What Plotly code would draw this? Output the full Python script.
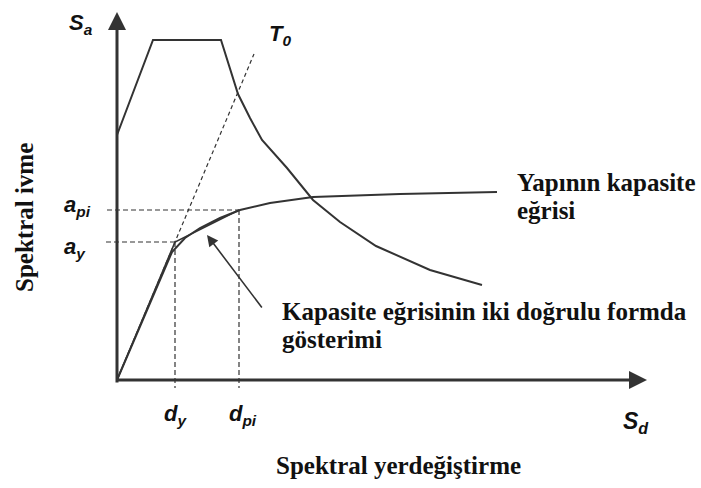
import plotly.graph_objects as go

# Spectral acceleration / displacement diagram (arbitrary units)
spec_sd = [0.0, 3.6, 10.4, 12.1, 13.3, 14.5, 17.0, 19.6, 22.3, 25.9, 31.3, 36.5]
spec_sa = [24.5, 34.0, 34.0, 28.6, 26.2, 24.0, 21.2, 18.0, 15.8, 13.4, 11.0, 9.5]

cap_sd = [0.0, 4.8, 5.5, 6.8, 8.3, 10.3, 12.3, 15.3, 19.6, 28.3, 38.0]
cap_sa = [0.0, 11.2, 12.8, 14.2, 15.2, 16.2, 17.0, 17.7, 18.3, 18.6, 18.8]

d_y, a_y = 5.8, 13.8
d_pi, a_pi = 12.2, 17.0
bilin_sd = [0.0, d_y, d_pi]
bilin_sa = [0.0, a_y, a_pi]

t0_sd = [0.0, 13.7]
t0_sa = [0.0, 32.6]

sd_max = 53.0
sa_max = 36.8

LINE = "#333333"
TXT = "#111111"
SERIF = "Liberation Serif"
SANS = "Liberation Sans"

fig = go.Figure()

def line(x, y, width=2.0, dash="solid", color=LINE):
    fig.add_trace(go.Scatter(x=x, y=y, mode="lines",
                             line=dict(color=color, width=width, dash=dash),
                             hoverinfo="skip", showlegend=False))

# guide lines
line(t0_sd, t0_sa, 1.2, "4px,3px")
line([-1.0, d_pi], [a_pi, a_pi], 1.2, "5px,3px")
line([-1.1, d_y], [a_y, a_y], 1.2, "5px,3px")
line([d_y, d_y], [a_y, -0.8], 1.2, "5px,3px")
line([d_pi, d_pi], [a_pi, -0.8], 1.2, "5px,3px")

# curves
line(spec_sd, spec_sa, 2.0)
line(cap_sd, cap_sa, 2.0)
line(bilin_sd, bilin_sa, 1.6)

annotations = []

# axes with arrows
annotations.append(dict(x=0, y=sa_max, ax=0, ay=-0.4, xref="x", yref="y",
                        axref="x", ayref="y", showarrow=True, arrowhead=2,
                        arrowsize=1.2, arrowwidth=3, arrowcolor=LINE, text=""))
annotations.append(dict(x=sd_max, y=0, ax=-0.15, ay=0, xref="x", yref="y",
                        axref="x", ayref="y", showarrow=True, arrowhead=2,
                        arrowsize=1.2, arrowwidth=3, arrowcolor=LINE, text=""))

# pointer to the bilinear form
annotations.append(dict(x=9.0, y=14.5, ax=14.6, ay=7.1, xref="x", yref="y",
                        axref="x", ayref="y", showarrow=True, arrowhead=2,
                        arrowsize=1.4, arrowwidth=1.6, arrowcolor=LINE, text=""))

def label(x, y, text, font, size, xanchor="left", yanchor="middle", angle=0):
    annotations.append(dict(x=x, y=y, xref="x", yref="y", text=text,
                            showarrow=False, xanchor=xanchor, yanchor=yanchor,
                            textangle=angle,
                            font=dict(family=font, size=size, color=TXT)))

sym = lambda s, sub: f"<b><i>{s}<sub>{sub}</sub></i></b>"

label(-5.0, 35.6, sym("S", "a"), SANS, 22)
label(15.0, 34.5, sym("T", "0"), SANS, 22)
label(-5.5, 17.4, sym("a", "pi"), SANS, 22)
label(-5.5, 13.2, sym("a", "y"), SANS, 22)
label(4.5, -3.5, sym("d", "y"), SANS, 22)
label(11.0, -3.5, sym("d", "pi"), SANS, 22)
label(50.4, -4.2, sym("S", "d"), SANS, 23)

label(39.8, 19.8, "<b>Yapının kapasite</b>", SERIF, 25)
label(39.8, 17.0, "<b>eğrisi</b>", SERIF, 25)
label(16.3, 6.9, "<b>Kapasite eğrisinin iki doğrulu formda</b>", SERIF, 25)
label(16.3, 4.1, "<b>gösterimi</b>", SERIF, 25)
label(15.7, -8.5, "<b>Spektral yerdeğiştirme</b>", SERIF, 25)
label(-9.3, 16.2, "<b>Spektral ivme</b>", SERIF, 25, xanchor="center", angle=-90)

fig.update_layout(
    width=701, height=488,
    margin=dict(l=0, r=0, t=0, b=0),
    paper_bgcolor="white", plot_bgcolor="white",
    xaxis=dict(range=[-11.7, 58.4], visible=False, fixedrange=True),
    yaxis=dict(range=[-10.8, 38.0], visible=False, fixedrange=True),
    annotations=annotations,
    showlegend=False,
)

fig.write_html("out.html")
